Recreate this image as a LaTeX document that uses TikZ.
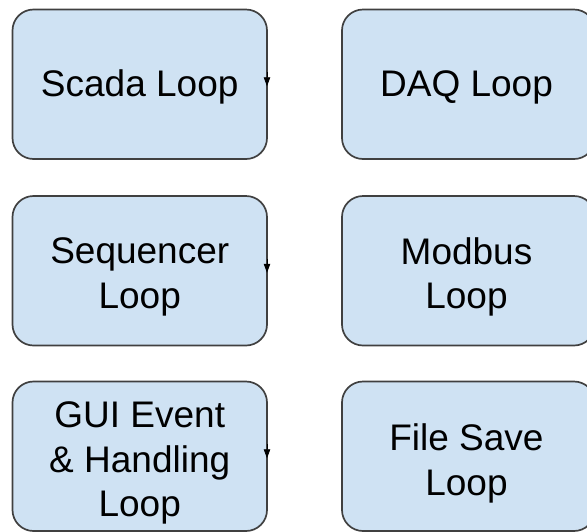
\documentclass[tikz,border=0pt]{standalone}
\usepackage{fontspec}
\setmainfont{Liberation Sans}
\usetikzlibrary{arrows.meta,calc}
\definecolor{loopfill}{HTML}{CFE2F3}
\definecolor{loopedge}{HTML}{404040}
\tikzset{
  loopbox/.style={draw=loopedge, line width=1.7pt, fill=loopfill,
    rounded corners=21pt, inner sep=0pt, outer sep=0pt},
  leftbox/.style={loopbox, minimum width=254.5pt, minimum height=149.5pt},
  rightbox/.style={loopbox, minimum width=253pt, minimum height=149.5pt},
  looptext/.style={inner sep=0pt, align=center, text=black,
    font=\fontsize{37}{44.5}\selectfont},
  looptip/.style={-{Triangle[width=6.5pt,length=9pt]}, draw=black, line width=0.8pt},
}
\begin{document}
\begin{tikzpicture}[x=1pt,y=1pt]
  \useasboundingbox (0,0) rectangle (587,-531);
  % left column
  \node[leftbox, label={[looptext, yshift=-3pt]center:Scada Loop}]
    (scada) at (139.75,-84.25) {};
  \node[leftbox, label={[looptext, yshift=-6pt]center:Sequencer\\Loop}]
    (seq) at (139.75,-270.75) {};
  \node[leftbox, label={[looptext, yshift=-7pt]center:GUI Event\\\& Handling\\Loop}]
    (gui) at (139.75,-456.25) {};
  % right column (its right edge runs past the page)
  \node[rightbox, label={[looptext, xshift=-2pt, yshift=-3pt]center:DAQ Loop}]
    (daq) at (468.5,-84.25) {};
  \node[rightbox, label={[looptext, xshift=-2pt, yshift=-6pt]center:Modbus\\Loop}]
    (mod) at (468.5,-270.75) {};
  \node[rightbox, label={[looptext, xshift=-2pt, yshift=-7pt]center:File Save\\Loop}]
    (file) at (468.5,-456.25) {};
  % arrow tips running along the right edges
  \foreach \b in {scada,seq,gui,daq,mod,file}{
    \draw[looptip] ($(\b.east)+(0,12)$) -- ($(\b.east)+(0,-2)$);
  }
\end{tikzpicture}
\end{document}
